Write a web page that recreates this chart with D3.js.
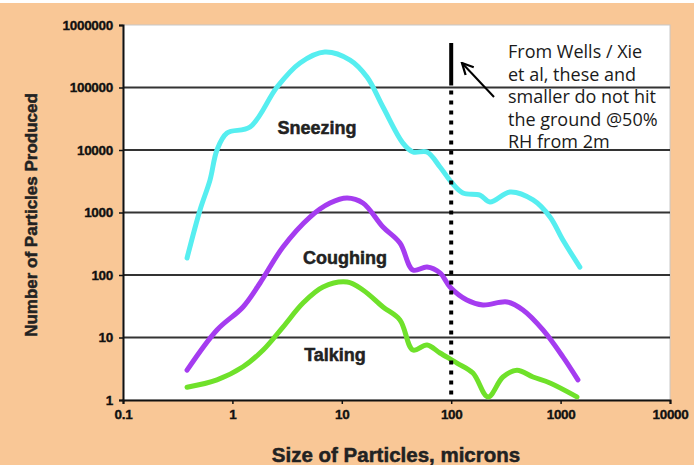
<!DOCTYPE html>
<html lang="en">

<head>
  <meta charset="utf-8">
  <title>Particles</title>
  <script src="https://d3js.org/d3.v7.min.js" charset="utf-8"></script>
  <style type="text/css">
    body { margin: 0; background: #ffffff; }
    .tick text { font-family: "Liberation Sans", Arial, sans-serif; font-weight: bold; font-size: 13.5px; fill: #111; stroke: #111; stroke-width: 0.35; letter-spacing: -0.3px; }
    .curve { fill: none; stroke-width: 5; stroke-linecap: round; stroke-linejoin: round; }
    .lbl { font-family: "Liberation Sans", Arial, sans-serif; font-weight: bold; font-size: 18px; fill: #222; stroke: #222; stroke-width: 0.5; }
    .note { font-family: "Open Sans", sans-serif; font-size: 18px; fill: #1a1a1a; }
  </style>
</head>

<body>
  <script type="text/javascript">

    // values (size in microns, particle count)
    var sneezeSize = [0.385, 0.506, 0.624, 0.723, 0.893, 1.45, 2.56, 4.15, 7.0, 11.9, 17.0, 23.8, 36.2, 44.7, 60.1, 79, 102, 128, 183, 226, 345, 560, 800, 1050, 1500];
    var sneezeCount = [187, 1100, 3300, 10000, 18700, 23300, 102000, 247000, 370000, 275000, 147000, 48700, 12900, 9300, 9300, 5350, 2960, 2050, 1900, 1470, 2130, 1590, 850, 363, 134];

    var coughSize = [0.385, 0.723, 1.25, 1.79, 2.90, 5.12, 7.80, 11.2, 15.6, 23.8, 34.0, 44.7, 60.1, 79, 97.5, 139, 195, 324, 453, 690, 1050, 1440];
    var coughCount = [3.0, 13.2, 30.8, 74.5, 281, 847, 1420, 1710, 1420, 586, 325, 120, 134, 108, 64.3, 39.8, 33.1, 37, 27.5, 13.2, 4.9, 2.1];

    var talkSize = [0.385, 0.723, 1.25, 1.91, 2.90, 4.42, 6.73, 11.2, 15.6, 23.8, 34.0, 44.7, 60.1, 79, 113, 158, 217, 297, 399, 560, 800, 1410];
    var talkCount = [1.6, 2.1, 3.4, 6.3, 14.7, 35.6, 64.3, 77.3, 57.5, 30.8, 19.1, 6.3, 7.6, 5.65, 3.9, 2.7, 1.12, 2.33, 3.0, 2.33, 1.87, 1.12];

    var xTicks = [0.1, 1, 10, 100, 1000, 10000];
    var yTicks = [1, 10, 100, 1000, 10000, 100000, 1000000];
    var noteLines = ["From Wells / Xie", "et al, these and", "smaller do not hit", "the ground @50%", "RH from 2m"];

    var W = 694, H = 465;
    var L = 123, T = 25, R = 670, B = 400;

    var svg = d3.select("body").append("svg")
      .attr("width", W)
      .attr("height", H);

    // peach frame
    svg.append("rect").attr("x", 0).attr("y", 3).attr("width", W).attr("height", H - 3).attr("fill", "#f9c796");
    svg.append("rect").attr("x", L).attr("y", T).attr("width", R - L).attr("height", B - T)
      .attr("fill", "#ffffff").attr("stroke", "#c8c8c8").attr("stroke-width", 1);

    var x = d3.scaleLog().domain([0.1, 10000]).range([L, R]);
    var y = d3.scaleLog().domain([1, 1000000]).range([B, T]);

    // gridlines
    svg.selectAll("line.grid")
      .data(yTicks.slice(1, -1))
      .enter()
      .append("line")
      .attr("class", "grid")
      .attr("x1", L).attr("x2", R)
      .attr("y1", function (d) { return y(d); })
      .attr("y2", function (d) { return y(d); })
      .attr("stroke", "#333")
      .attr("stroke-width", 2);

    var xAxis = svg.append("g")
      .attr("transform", "translate(0," + B + ")")
      .call(d3.axisBottom(x).tickValues(xTicks).tickFormat(function (d) { return String(d); }).tickSize(4).tickPadding(5));
    var yAxis = svg.append("g")
      .attr("transform", "translate(" + L + ",0)")
      .call(d3.axisLeft(y).tickValues(yTicks).tickFormat(function (d) { return String(d); }).tickSize(4).tickPadding(6));
    [xAxis, yAxis].forEach(function (g) {
      g.select(".domain").attr("stroke", "#111").attr("stroke-width", 2);
      g.selectAll(".tick line").attr("stroke", "#111").attr("stroke-width", 1.5);
    });

    var line = d3.line()
      .x(function (d) { return x(d[0]); })
      .y(function (d) { return y(d[1]); })
      .curve(d3.curveCatmullRom.alpha(0.5));

    var series = [
      { size: sneezeSize, count: sneezeCount, color: "#56eef0" },
      { size: coughSize, count: coughCount, color: "#a53cf0" },
      { size: talkSize, count: talkCount, color: "#6fe12a" }
    ];
    series.forEach(function (s) {
      svg.append("path")
        .datum(d3.zip(s.size, s.count))
        .attr("class", "curve")
        .attr("stroke", s.color)
        .attr("d", line);
    });

    // curve labels
    svg.append("text").attr("class", "lbl").attr("x", 317).attr("y", 134).attr("text-anchor", "middle").text("Sneezing");
    svg.append("text").attr("class", "lbl").attr("x", 345).attr("y", 264).attr("text-anchor", "middle").text("Coughing");
    svg.append("text").attr("class", "lbl").attr("x", 335).attr("y", 361).attr("text-anchor", "middle").text("Talking");

    // axis titles
    svg.append("text")
      .attr("transform", "translate(37," + 215 + ") rotate(-90)")
      .attr("text-anchor", "middle")
      .attr("class", "lbl")
      .style("font-size", "17px")
      .text("Number of Particles Produced");
    svg.append("text")
      .attr("x", 396).attr("y", 462)
      .attr("text-anchor", "middle")
      .attr("class", "lbl")
      .style("font-size", "20.5px")
      .text("Size of Particles, microns");

    // 100 micron marker
    svg.append("line")
      .attr("x1", x(100)).attr("x2", x(100))
      .attr("y1", 43).attr("y2", y(100000) - 2)
      .attr("stroke", "#000").attr("stroke-width", 4);
    svg.append("line")
      .attr("x1", x(100)).attr("x2", x(100))
      .attr("y1", y(100000) + 3).attr("y2", B)
      .attr("stroke", "#000").attr("stroke-width", 4)
      .attr("stroke-dasharray", "4,6");

    // arrow
    svg.append("defs").append("marker")
      .attr("id", "arr").attr("viewBox", "0 0 10 10")
      .attr("refX", 9).attr("refY", 5)
      .attr("markerWidth", 7).attr("markerHeight", 7)
      .attr("orient", "auto")
      .append("path")
      .attr("d", "M1,1 L9,5 L1,9")
      .attr("fill", "none").attr("stroke", "#000").attr("stroke-width", 1.6);
    svg.append("line")
      .attr("x1", 494).attr("y1", 97).attr("x2", 462).attr("y2", 63)
      .attr("stroke", "#000").attr("stroke-width", 2)
      .attr("marker-end", "url(#arr)");

    svg.selectAll("text.note")
      .data(noteLines)
      .enter()
      .append("text")
      .attr("class", "note")
      .attr("x", 508)
      .attr("y", function (d, i) { return 58 + i * 22.5; })
      .text(function (d) { return d; });

  </script>
</body>

</html>
